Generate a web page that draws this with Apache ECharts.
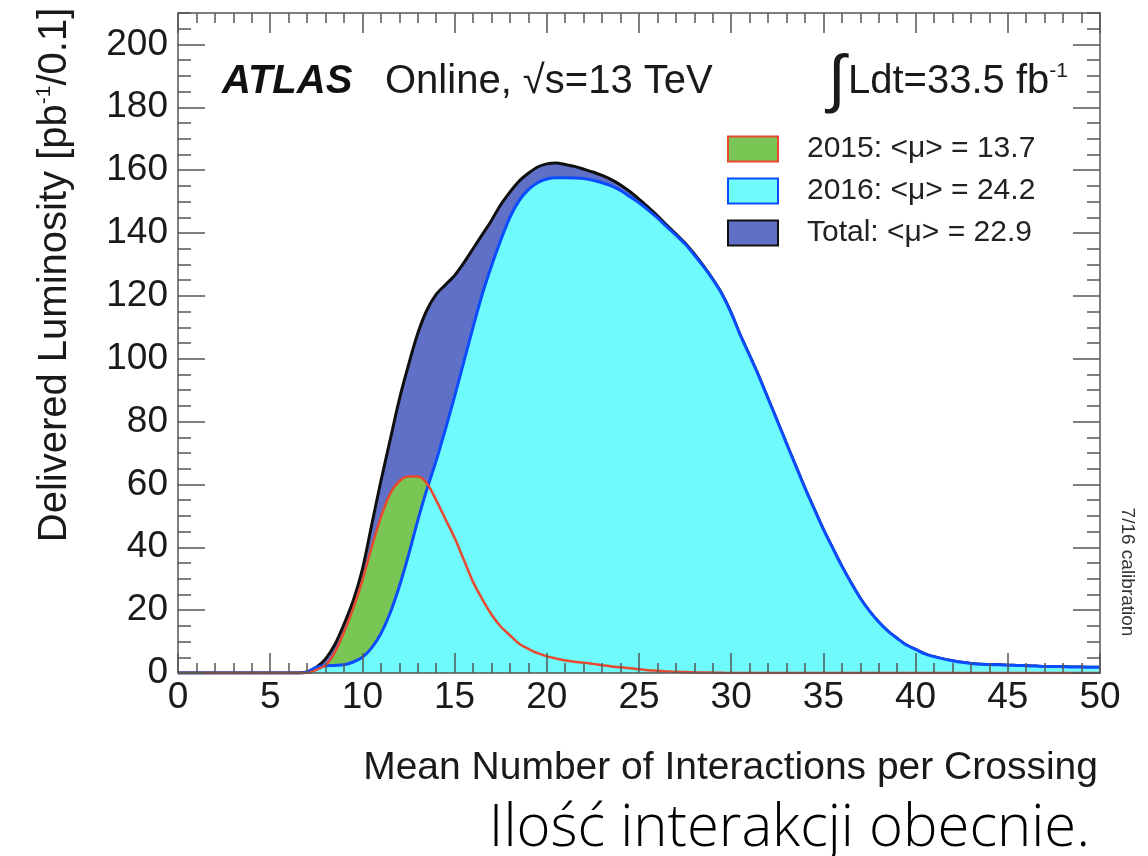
<!DOCTYPE html>
<html>
<head>
<meta charset="utf-8">
<title>ATLAS pile-up</title>
<script src="https://cdn.jsdelivr.net/npm/echarts@6/dist/echarts.min.js"></script>
<style>
  html, body { margin: 0; padding: 0; background: #ffffff; }
  #chart { width: 1148px; height: 856px; }
</style>
</head>
<body>
<div id="chart"></div>
<script>
// Bin centres of the <mu> histograms (0.5 steps from 0 to 50)
const mu = Array.from({ length: 101 }, (_, i) => i * 0.5);

// Delivered luminosity per bin [pb^-1/0.1], all 2015+2016 data
const totalLumi = [
  0, 0, 0, 0, 0, 0, 0, 0, 0, 0,                 // 0 .. 4.5
  0, 0, 0, 0, 0.3, 1.8, 4.5, 9, 15.5, 23,       // 5 .. 9.5
  33, 47, 61, 74, 87, 98, 108, 115.5, 120.5, 123.5, // 10 .. 14.5
  126.5, 130.5, 135, 139.5, 144, 149, 153, 156.5, 159, 161, // 15 .. 19.5
  162, 162.3, 161.8, 161.2, 160.3, 159.4, 158.3, 157, 155.3, 153.2, // 20 .. 24.5
  150.8, 148.2, 145.5, 142.5, 139.7, 136.8, 133.3, 129.5, 125.3, 120.6, // 25 .. 29.5
  114.6, 107.4, 101, 94.4, 87.3, 80.2, 73, 65.9, 58.8, 52.2, // 30 .. 34.5
  45.7, 39.8, 34, 28.7, 23.8, 19.7, 16.2, 13.3, 11, 8.9,   // 35 .. 39.5
  7.5, 6.1, 5.2, 4.5, 3.9, 3.4, 3.05, 2.8, 2.7, 2.6,       // 40 .. 44.5
  2.5, 2.4, 2.3, 2.2, 2.1, 2.1, 2.0, 1.9, 1.9, 1.8,        // 45 .. 49.5
  1.8                                                      // 50
];

// 2015 data, <mu> = 13.7
const lumi2015 = [
  0, 0, 0, 0, 0, 0, 0, 0, 0, 0,                 // 0 .. 4.5
  0, 0, 0, 0, 0, 1, 2.5, 6.5, 13, 20.5,         // 5 .. 9.5
  29.5, 40, 49.5, 57, 61, 62.5, 62.5, 60.3, 55, 49, // 10 .. 14.5
  43, 36, 29, 23.5, 18.6, 14.8, 12, 9.3, 7.7, 6.3, // 15 .. 19.5
  5.3, 4.6, 4.0, 3.6, 3.3, 2.9, 2.5, 2.1, 1.8, 1.5, // 20 .. 24.5
  1.2, 0.9, 0.7, 0.5, 0.4, 0.3, 0.2, 0.15, 0.1, 0.05, // 25 .. 29.5
  0, 0, 0, 0, 0, 0, 0, 0, 0, 0,                 // 30 .. 34.5
  0, 0, 0, 0, 0, 0, 0, 0, 0, 0,                 // 35 .. 39.5
  0, 0, 0, 0, 0, 0, 0, 0, 0, 0,                 // 40 .. 44.5
  0, 0, 0, 0, 0, 0, 0, 0, 0, 0,                 // 45 .. 49.5
  0                                             // 50
];

// 2016 data, <mu> = 24.2
const lumi2016 = [
  0, 0, 0, 0, 0, 0, 0, 0, 0, 0,                 // 0 .. 4.5
  0, 0, 0, 0, 0.3, 1.8, 2.3, 2.4, 2.6, 3.5,     // 5 .. 9.5
  5, 8, 12.5, 19, 27.5, 37.5, 48.5, 58.5, 67.5, 77.5, // 10 .. 14.5
  88, 99, 110, 120.5, 129.5, 137.7, 145, 150.3, 153.8, 156, // 15 .. 19.5
  157.2, 157.6, 157.6, 157.5, 157.3, 156.8, 156, 155, 153.5, 151.6, // 20 .. 24.5
  149.6, 147.3, 144.8, 142, 139.3, 136.5, 133, 129.3, 125.2, 120.5, // 25 .. 29.5
  114.5, 107.4, 101, 94.4, 87.3, 80.2, 73, 65.9, 58.8, 52.2, // 30 .. 34.5
  45.7, 39.8, 34, 28.7, 23.8, 19.7, 16.2, 13.3, 11, 8.9,   // 35 .. 39.5
  7.5, 6.1, 5.2, 4.5, 3.9, 3.4, 3.05, 2.8, 2.7, 2.6,       // 40 .. 44.5
  2.5, 2.4, 2.3, 2.2, 2.1, 2.1, 2.0, 1.9, 1.9, 1.8,        // 45 .. 49.5
  1.8                                                      // 50
];

// Axis ticks
const xMajorTicks = [0, 5, 10, 15, 20, 25, 30, 35, 40, 45, 50];
const yMajorTicks = [0, 20, 40, 60, 80, 100, 120, 140, 160, 180, 200];
const yMinorTicks = [0, 5, 10, 15, 20, 25, 30, 35, 40, 45, 50, 55, 60, 65, 70, 75, 80, 85, 90, 95,
  100, 105, 110, 115, 120, 125, 130, 135, 140, 145, 150, 155, 160, 165, 170, 175, 180, 185, 190, 195,
  200, 205, 210];

// Legend entries
const legendNames = ['2015: <\u03bc> = 13.7', '2016: <\u03bc> = 24.2', 'Total: <\u03bc> = 22.9'];

const FONT = '"Liberation Sans", Arial, Helvetica, sans-serif';
const FRAME = '#555555';
const TICK = '#555555';
const C_TOTAL = '#6070c6';
const C_TOTAL_LINE = '#101010';
const C_2015 = '#7ac655';
const C_2015_LINE = '#e8492f';
const C_2016 = '#6ffafc';
const C_2016_LINE = '#0c4cff';

const pts = arr => mu.map((x, i) => [x, arr[i]]);

const xBase = { type: 'value', min: 0, max: 50, interval: 5, z: 10, splitLine: { show: false } };
const yBase = { type: 'value', min: 0, max: 210, z: 10, splitLine: { show: false } };
const frameLine = { show: true, onZero: false, lineStyle: { color: FRAME, width: 1.5 } };
const noLine = { show: false, onZero: false };
const tickStyle = { color: TICK, width: 1.5 };

const supRich = {
  n: { fontSize: 40, fontFamily: FONT, fill: '#1a1a1a', lineHeight: 42 },
  s: { fontSize: 21, fontFamily: FONT, fill: '#1a1a1a', verticalAlign: 'top', lineHeight: 42, padding: [0, 0, 14, 0] }
};

const chart = echarts.init(document.getElementById('chart'), null, { renderer: 'canvas' });

chart.setOption({
  animation: false,
  backgroundColor: '#ffffff',
  grid: { left: 178, right: 48, top: 13, bottom: 183, containLabel: false },
  xAxis: [
    {
      ...xBase, position: 'bottom', axisLine: frameLine,
      axisTick: { show: true, inside: true, length: 20, lineStyle: tickStyle },
      minorTick: { show: true, splitNumber: 5, length: 10, lineStyle: tickStyle },
      axisLabel: { show: true, fontSize: 37, fontFamily: FONT, color: '#1a1a1a', margin: 6,
        customValues: xMajorTicks }
    },
    {
      ...xBase, position: 'top', axisLine: frameLine,
      axisTick: { show: true, inside: true, length: 20, lineStyle: tickStyle },
      minorTick: { show: true, splitNumber: 5, length: 10, lineStyle: tickStyle },
      axisLabel: { show: false }
    }
  ],
  yAxis: [
    {
      ...yBase, position: 'left', axisLine: frameLine,
      axisTick: { show: true, inside: true, length: 27, customValues: yMajorTicks, lineStyle: tickStyle },
      axisLabel: { show: true, fontSize: 37, fontFamily: FONT, color: '#1a1a1a', margin: 10,
        customValues: yMajorTicks }
    },
    {
      ...yBase, position: 'left', axisLine: noLine,
      axisTick: { show: true, inside: true, length: 13, customValues: yMinorTicks, lineStyle: tickStyle },
      axisLabel: { show: false }
    },
    {
      ...yBase, position: 'right', axisLine: frameLine,
      axisTick: { show: true, inside: true, length: 27, customValues: yMajorTicks, lineStyle: tickStyle },
      axisLabel: { show: false }
    },
    {
      ...yBase, position: 'right', axisLine: noLine,
      axisTick: { show: true, inside: true, length: 13, customValues: yMinorTicks, lineStyle: tickStyle },
      axisLabel: { show: false }
    }
  ],
  legend: {
    orient: 'vertical', left: 722, top: 129, icon: 'rect',
    itemWidth: 50, itemHeight: 25, itemGap: 12, selectedMode: false,
    textStyle: { fontSize: 30, fontFamily: FONT, color: '#222', padding: [0, 0, 0, 24] },
    data: [
      { name: legendNames[0], itemStyle: { color: C_2015, borderColor: C_2015_LINE, borderWidth: 2 } },
      { name: legendNames[1], itemStyle: { color: C_2016, borderColor: C_2016_LINE, borderWidth: 2 } },
      { name: legendNames[2], itemStyle: { color: C_TOTAL, borderColor: C_TOTAL_LINE, borderWidth: 2 } }
    ]
  },
  series: [
    {
      name: legendNames[2], type: 'line', data: pts(totalLumi), smooth: 0.3, symbol: 'none', z: 2,
      itemStyle: { color: C_TOTAL },
      lineStyle: { color: C_TOTAL_LINE, width: 3 },
      areaStyle: { color: C_TOTAL, opacity: 1 },
      emphasis: { disabled: true }
    },
    {
      name: legendNames[0], type: 'line', data: pts(lumi2015), smooth: 0.3, symbol: 'none', z: 3,
      itemStyle: { color: C_2015 },
      lineStyle: { width: 0, opacity: 0 },
      areaStyle: { color: C_2015, opacity: 1 },
      emphasis: { disabled: true }
    },
    {
      name: legendNames[1], type: 'line', data: pts(lumi2016), smooth: 0.3, symbol: 'none', z: 4,
      itemStyle: { color: C_2016 },
      lineStyle: { color: C_2016_LINE, width: 3 },
      areaStyle: { color: C_2016, opacity: 1 },
      emphasis: { disabled: true }
    },
    {
      name: '2015 outline', type: 'line', data: pts(lumi2015), smooth: 0.3, symbol: 'none', z: 5,
      itemStyle: { color: C_2015_LINE },
      lineStyle: { color: C_2015_LINE, width: 2.5 },
      emphasis: { disabled: true }
    }
  ],
  graphic: [
    {
      type: 'text', x: 55, y: 275, rotation: Math.PI / 2,
      style: {
        text: '{n|Delivered Luminosity [pb}{s|-1}{n|/0.1]}',
        align: 'center', verticalAlign: 'middle', rich: supRich
      }
    },
    {
      type: 'text', x: 1098, y: 768,
      style: { text: 'Mean Number of Interactions per Crossing', fontSize: 39, fontFamily: FONT,
        fill: '#1a1a1a', align: 'right', verticalAlign: 'middle' }
    },
    {
      type: 'text', x: 222, y: 82,
      style: { text: 'ATLAS', fontSize: 40, fontFamily: FONT, fontWeight: 'bold', fontStyle: 'italic',
        fill: '#111', align: 'left', verticalAlign: 'middle' }
    },
    {
      type: 'text', x: 385, y: 82,
      style: { text: 'Online, \u221As=13 TeV', fontSize: 40, fontFamily: FONT,
        fill: '#1a1a1a', align: 'left', verticalAlign: 'middle' }
    },
    {
      type: 'text', x: 828, y: 82,
      style: { text: '\u222B', fontSize: 64, fontFamily: FONT, fill: '#1a1a1a', align: 'left', verticalAlign: 'middle' }
    },
    {
      type: 'text', x: 848, y: 82,
      style: { text: '{n|Ldt=33.5 fb}{s|-1}', align: 'left', verticalAlign: 'middle', rich: supRich }
    },
    {
      type: 'text', x: 1127, y: 572, rotation: -Math.PI / 2,
      style: { text: '7/16 calibration', fontSize: 19, fontFamily: FONT, fill: '#333',
        align: 'center', verticalAlign: 'middle' }
    },
    {
      type: 'text', x: 1090, y: 829,
      style: { text: 'Ilo\u015b\u0107 interakcji obecnie.', fontSize: 58, fontFamily: '"Open Sans", "Noto Sans", sans-serif',
        fontWeight: 300, fill: '#000', align: 'right', verticalAlign: 'middle' }
    }
  ]
});
</script>
</body>
</html>
